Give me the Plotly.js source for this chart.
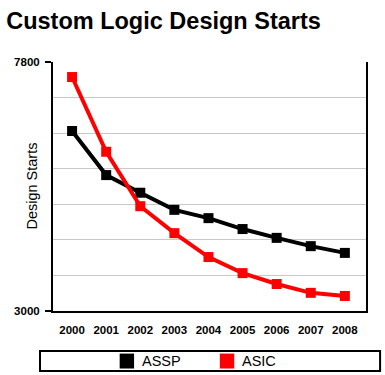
<!DOCTYPE html>
<html><head><meta charset="utf-8">
<script src="https://cdn.plot.ly/plotly-3.0.1.min.js"></script>
<style>html,body{margin:0;padding:0;background:#fff}#chart{width:385px;height:375px}</style>
</head><body><div id="chart"></div>
<script>
const years = [2000, 2001, 2002, 2003, 2004, 2005, 2006, 2007, 2008];
const assp = [6470, 5620, 5280, 4950, 4790, 4580, 4410, 4250, 4120];
const asic = [7510, 6070, 5020, 4500, 4040, 3730, 3520, 3350, 3290];
const yTicks = [3000, 7800];
const seriesNames = ['ASSP', 'ASIC'];
const colors = ['#000000', '#ff0000'];

const font = 'Liberation Sans, Arial, sans-serif';
const traces = [assp, asic].map((v, i) => ({
  x: years, y: v, type: 'scatter', mode: 'lines+markers', name: seriesNames[i],
  line: {color: colors[i], width: 4},
  marker: {symbol: 'square', size: 10, color: colors[i]},
  showlegend: false, cliponaxis: false
}));

// legend drawn as paper-positioned swatches + labels
const legX = [0.236, 0.556];   // swatch centres (paper x)
const legY = -0.201;           // legend row centre (paper y)
const sw = 0.046, shh = 0.06;  // swatch width / height in paper units
const shapes = [{type: 'rect', xref: 'paper', yref: 'paper', x0: -0.0415, x1: 1.045, y0: -0.241, y1: -0.161,
  line: {color: '#000', width: 2}, fillcolor: 'rgba(0,0,0,0)'}];
const annotations = [{text: 'Design Starts', xref: 'paper', yref: 'paper', x: -0.07, y: 0.5,
  xanchor: 'center', yanchor: 'middle',
  textangle: -90, showarrow: false, font: {family: font, size: 14.5, color: '#000'}}];
seriesNames.forEach((n, i) => {
  shapes.push({type: 'rect', xref: 'paper', yref: 'paper', x0: legX[i] - sw / 2, x1: legX[i] + sw / 2,
    y0: legY - shh / 2, y1: legY + shh / 2, line: {width: 0}, fillcolor: colors[i]});
  annotations.push({text: n, xref: 'paper', yref: 'paper', x: legX[i] + sw / 2 + 0.02, y: legY,
    xanchor: 'left', yanchor: 'middle', showarrow: false, font: {family: font, size: 14.5, color: '#000'}});
});

const layout = {
  width: 385, height: 375,
  margin: {l: 53, r: 19, t: 62, b: 64},
  paper_bgcolor: '#fff', plot_bgcolor: '#fff',
  title: {text: '<b>Custom Logic Design Starts</b>', x: 0.016, xanchor: 'left', y: 0.945, yanchor: 'middle',
    font: {family: font, size: 23.5, color: '#000'}},
  xaxis: {range: [1999.44, 2008.62], tickvals: years, ticktext: years.map(y => '<b>' + y + '</b>'),
    showgrid: false, zeroline: false, showline: true, linecolor: '#000', linewidth: 2,
    ticks: '', ticklabelstandoff: 7, tickfont: {family: font, size: 11.5, color: '#000'}, fixedrange: true},
  yaxis: {range: [3000, 7800], tickvals: yTicks, ticktext: yTicks.map(t => '<b>' + t + '</b>'),
    showgrid: false, zeroline: false, showline: true, mirror: true, linecolor: '#000', linewidth: 2,
    ticks: 'outside', ticklen: 6, tickcolor: '#000', tickwidth: 2, ticklabelstandoff: 3,
    tickfont: {family: font, size: 11.5, color: '#000'},
    minor: {tick0: 3000, dtick: 4800 / 7, showgrid: true, gridcolor: '#c8c8c8', gridwidth: 1, ticks: ''}},
  showlegend: false,
  shapes: shapes,
  annotations: annotations
};
Plotly.newPlot('chart', traces, layout, {displayModeBar: false, staticPlot: true});
</script></body></html>
